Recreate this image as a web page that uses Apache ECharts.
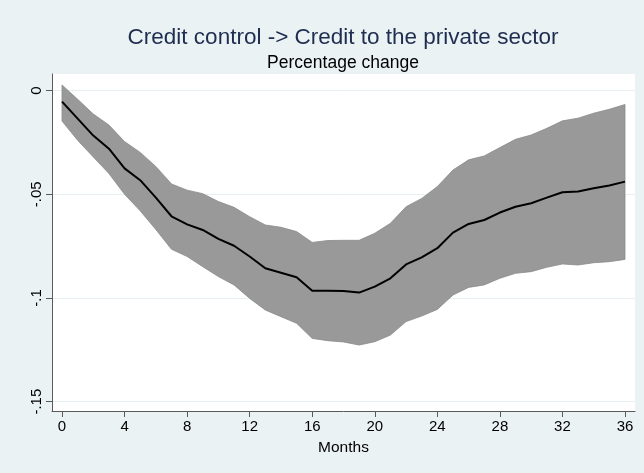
<!DOCTYPE html>
<html>
<head>
<meta charset="utf-8">
<script src="https://cdn.jsdelivr.net/npm/echarts@6/dist/echarts.min.js"></script>
<style>
  html, body { margin: 0; padding: 0; background: #eaf2f3; }
  #chart { width: 644px; height: 473px; }
</style>
</head>
<body>
<div id="chart"></div>
<script>
// Impulse response of private-sector credit to a credit-control shock
const months = [0, 1, 2, 3, 4, 5, 6, 7, 8, 9, 10, 11, 12, 13, 14, 15, 16, 17, 18,
  19, 20, 21, 22, 23, 24, 25, 26, 27, 28, 29, 30, 31, 32, 33, 34, 35, 36];

const irf = [-0.0053, -0.0135, -0.0217, -0.028, -0.0375, -0.0432, -0.0516, -0.0606,
  -0.0645, -0.0672, -0.0715, -0.0748, -0.080, -0.0857, -0.0878, -0.090, -0.0965,
  -0.0965, -0.0966, -0.0974, -0.0945, -0.0905, -0.0838, -0.0804, -0.076, -0.0685,
  -0.0643, -0.0624, -0.0588, -0.056, -0.0543, -0.0516, -0.049, -0.0487, -0.0471,
  -0.0458, -0.0439];

const upper = [0.0027, -0.0042, -0.0113, -0.0166, -0.0246, -0.0298, -0.0366, -0.045,
  -0.048, -0.0497, -0.0535, -0.0563, -0.0608, -0.0648, -0.0659, -0.068, -0.0732,
  -0.0723, -0.0722, -0.0722, -0.0688, -0.064, -0.056, -0.052, -0.0463, -0.0383,
  -0.0334, -0.0315, -0.0275, -0.0235, -0.0214, -0.0182, -0.0146, -0.0133, -0.0109,
  -0.009, -0.0067];

const lower = [-0.0147, -0.024, -0.032, -0.040, -0.050, -0.058, -0.067, -0.0765,
  -0.080, -0.0849, -0.0897, -0.0937, -0.1002, -0.1058, -0.109, -0.1122, -0.1195,
  -0.1206, -0.1212, -0.1227, -0.1211, -0.1179, -0.1114, -0.1087, -0.1055, -0.0986,
  -0.0949, -0.0937, -0.0905, -0.0881, -0.0873, -0.0852, -0.0836, -0.0841, -0.083,
  -0.0825, -0.0814];

const xTicks = [0, 4, 8, 12, 16, 20, 24, 28, 32, 36];
const yTicks = [0, -0.05, -0.1, -0.15];
const yTickLabels = ['0', '-.05', '-.1', '-.15'];

const titleText = 'Credit control -> Credit to the private sector';
const subtitleText = 'Percentage change';
const xTitle = 'Months';

const FONT = '"Liberation Sans", Arial, sans-serif';

const bandRows = months.map((m, i) => [m, lower[i], upper[i]]);
const irfPts = months.map((m, i) => [m, irf[i]]);

// Confidence band drawn as one closed polygon: upper edge left to right, lower edge back
function renderBand(params, api) {
  if (params.dataIndex !== 0) return null;
  const top = months.map((m, i) => api.coord([m, upper[i]]));
  const bottom = months.map((m, i) => api.coord([m, lower[i]])).reverse();
  return {
    type: 'polygon',
    shape: { points: top.concat(bottom) },
    style: { fill: '#999999', stroke: '#8a8a8a', lineWidth: 0.8 }
  };
}

const chart = echarts.init(document.getElementById('chart'), null, { renderer: 'canvas' });

chart.setOption({
  backgroundColor: '#eaf2f3',
  animation: false,
  title: [
    {
      text: titleText,
      left: 338, top: 21, textAlign: 'center',
      textStyle: { fontFamily: FONT, fontSize: 22.5, fontWeight: 'normal', color: '#1e2d50' }
    },
    {
      text: subtitleText,
      left: 338, top: 49.5, textAlign: 'center',
      textStyle: { fontFamily: FONT, fontSize: 17.5, fontWeight: 'normal', color: '#000' }
    }
  ],
  grid: { left: 52, right: 9, top: 74, bottom: 62, show: true, backgroundColor: '#ffffff', borderWidth: 0 },
  xAxis: {
    type: 'value',
    min: -0.64, max: 36.64,
    name: xTitle, nameLocation: 'middle', nameGap: 29,
    nameTextStyle: { fontFamily: FONT, fontSize: 15.5, color: '#000' },
    axisLine: { show: true, onZero: false, lineStyle: { color: '#5a5a5a', width: 1 } },
    axisTick: { show: true, customValues: xTicks, length: 6, lineStyle: { color: '#5a5a5a' } },
    axisLabel: { customValues: xTicks, fontFamily: FONT, fontSize: 15, color: '#000', margin: 8, showMinLabel: true, showMaxLabel: true },
    splitLine: { show: false }
  },
  yAxis: {
    type: 'value',
    min: -0.1545, max: 0.008,
    axisLine: { show: true, onZero: false, lineStyle: { color: '#5a5a5a', width: 1 } },
    axisTick: { show: true, customValues: yTicks, length: 6, lineStyle: { color: '#5a5a5a' } },
    axisLabel: {
      customValues: yTicks, rotate: 90, fontFamily: FONT, fontSize: 15, color: '#000', margin: 8,
      formatter: (v) => {
        const k = yTicks.findIndex(t => Math.abs(t - v) < 1e-9);
        return k >= 0 ? yTickLabels[k] : '';
      }
    },
    splitLine: { show: true, lineStyle: { color: '#e6eff1', width: 1 } }
  },
  series: [
    {
      name: 'band',
      type: 'custom',
      renderItem: renderBand,
      data: bandRows,
      encode: { x: 0, y: [1, 2] },
      silent: true,
      z: 2
    },
    {
      name: 'irf',
      type: 'line',
      data: irfPts,
      symbol: 'none',
      lineStyle: { color: '#000000', width: 2 },
      z: 3
    }
  ]
});
</script>
</body>
</html>
